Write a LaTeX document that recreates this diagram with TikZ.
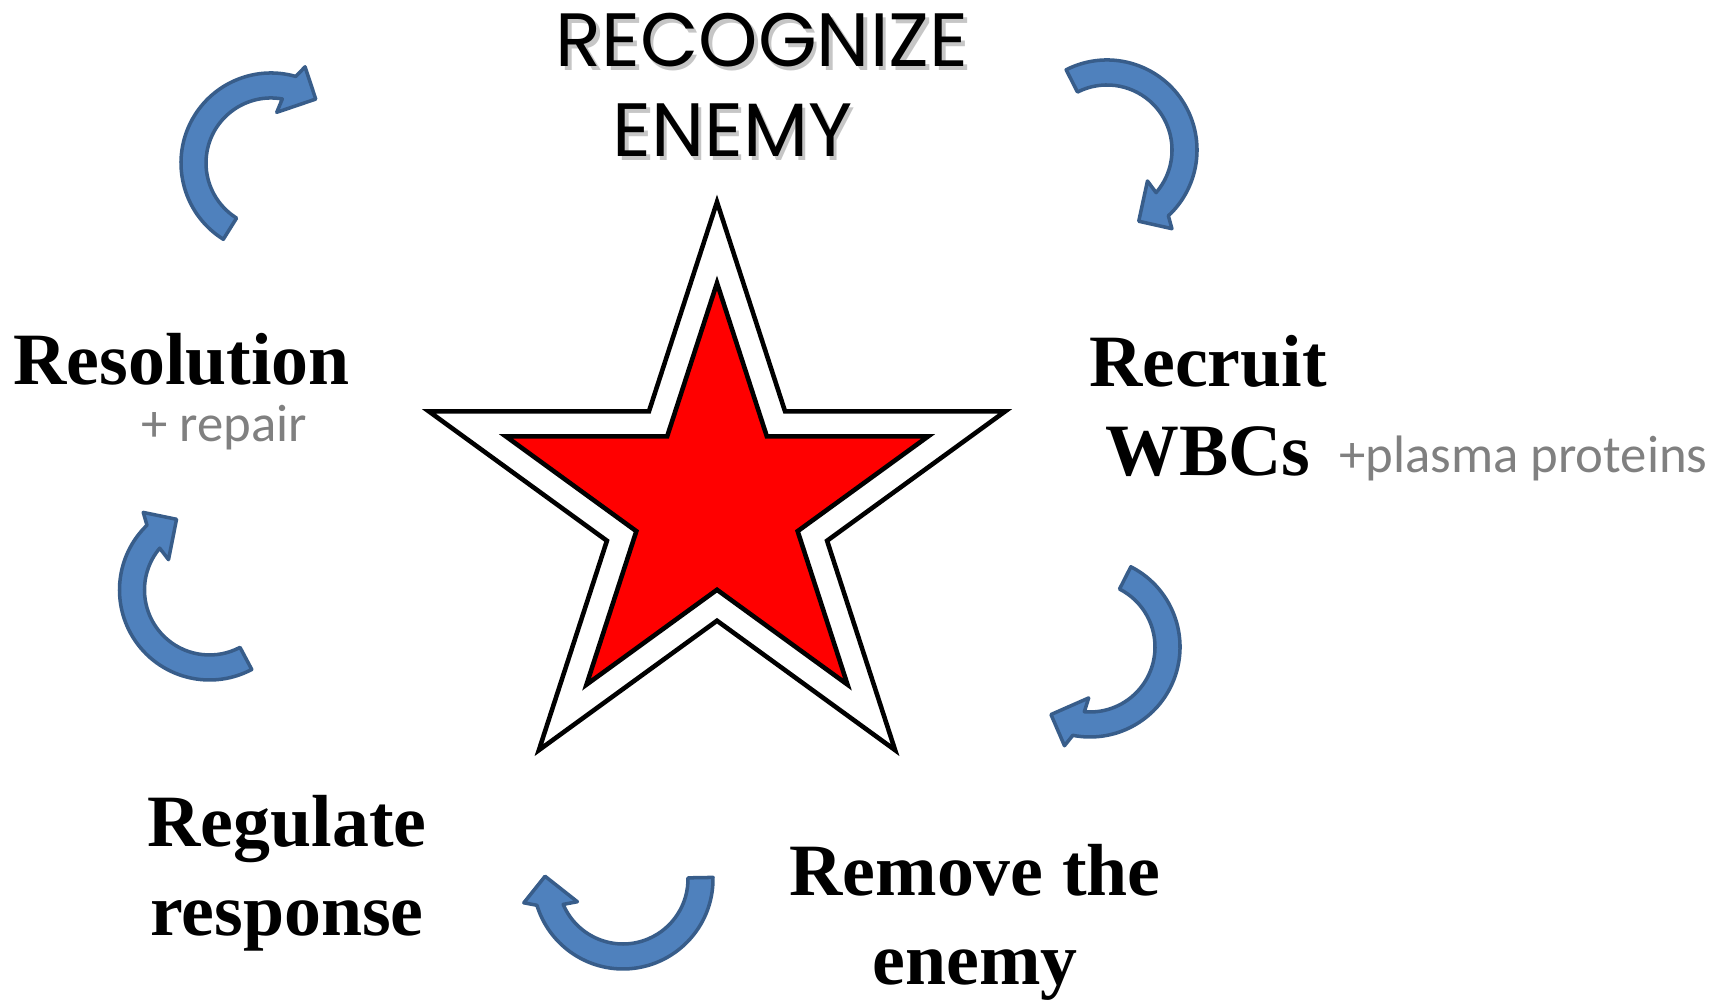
\documentclass[tikz,border=0pt]{standalone}
\usepackage{fontspec}
\setmainfont{Liberation Serif}
\newfontfamily\headfont{Poppins}
\newfontfamily\notefont{Carlito}
\usepackage{tikz}
\usetikzlibrary{shapes.geometric}
\definecolor{cycleblue}{RGB}{79, 129, 189}
\definecolor{cycleedge}{RGB}{56, 93, 138}
\definecolor{notegray}{RGB}{128, 128, 128}
\tikzset{
  steplabel/.style={font=\fontsize{21}{25.5}\selectfont\bfseries, align=center, inner sep=0pt},
  notelabel/.style={font=\notefont\fontsize{15}{18}\selectfont, text=notegray, inner sep=0pt},
  headlabel/.style={font=\headfont\fontsize{21.5}{25}\selectfont, inner sep=0pt},
  headshadow/.style={headlabel, text=gray!45},
  cyclearrow/.style={fill=cycleblue, draw=cycleedge, line width=1pt, line join=round},
  starshape/.style={star, star points=5, star point ratio=2.618, draw=black, line width=1.3pt, inner sep=0pt}
}
% curved block arrow: centre, tail angle (runs clockwise)
\newcommand{\looparrow}[2]{%
  \filldraw[cyclearrow, shift={(#1)}]
    (#2:0.9) arc[start angle=#2, end angle=#2-164, radius=0.9]
    -- (#2-167.5:1.02) -- (#2-183:0.78) -- (#2-154.5:0.51) -- (#2-158:0.65)
    arc[start angle=#2-158, end angle=#2, radius=0.65] -- cycle;
}

\begin{document}
\begin{tikzpicture}
  \useasboundingbox (0,0) rectangle (17.26,10);

  % Star
  \node[starshape, fill=white, minimum size=6.06cm] (outerstar) at (7.17, 4.95) {};
  \node[starshape, fill=red, minimum size=4.44cm] (innerstar) at (7.17, 4.95) {};

  % Top heading
  \node[headshadow, anchor=base] at (7.655, 9.295) {RECOGNIZE};
  \node[headlabel, anchor=base] (recognize) at (7.62, 9.33) {RECOGNIZE};
  \node[headshadow, anchor=base] at (7.36, 8.395) {ENEMY};
  \node[headlabel, anchor=base] (enemy) at (7.325, 8.43) {ENEMY};

  % Steps
  \node[steplabel, anchor=base] (recruit) at (12.08, 5.24) {Recruit\\WBCs};
  \node[notelabel, anchor=base] (plasma) at (15.235, 5.27) {+plasma proteins};
  \node[steplabel, anchor=base] (remove) at (9.75, 0.15) {Remove the\\enemy};
  \node[steplabel, anchor=base] (regulate) at (2.87, 0.64) {Regulate\\response};
  \node[steplabel, anchor=base] (resolution) at (1.815, 6.15) {Resolution};
  \node[notelabel, anchor=base] (repair) at (2.24, 5.58) {+ repair};

  % Cycle arrows
  \coordinate (arrowA) at (2.71, 8.37);
  \coordinate (arrowB) at (11.07, 8.50);
  \coordinate (arrowC) at (10.90, 3.53);
  \coordinate (arrowD) at (6.23, 1.21);
  \coordinate (arrowE) at (2.095, 4.10);
  \looparrow{arrowA}{238}
  \looparrow{arrowB}{117}
  \looparrow{arrowC}{63}
  \looparrow{arrowD}{1}
  \looparrow{arrowE}{-62}
\end{tikzpicture}
\end{document}
